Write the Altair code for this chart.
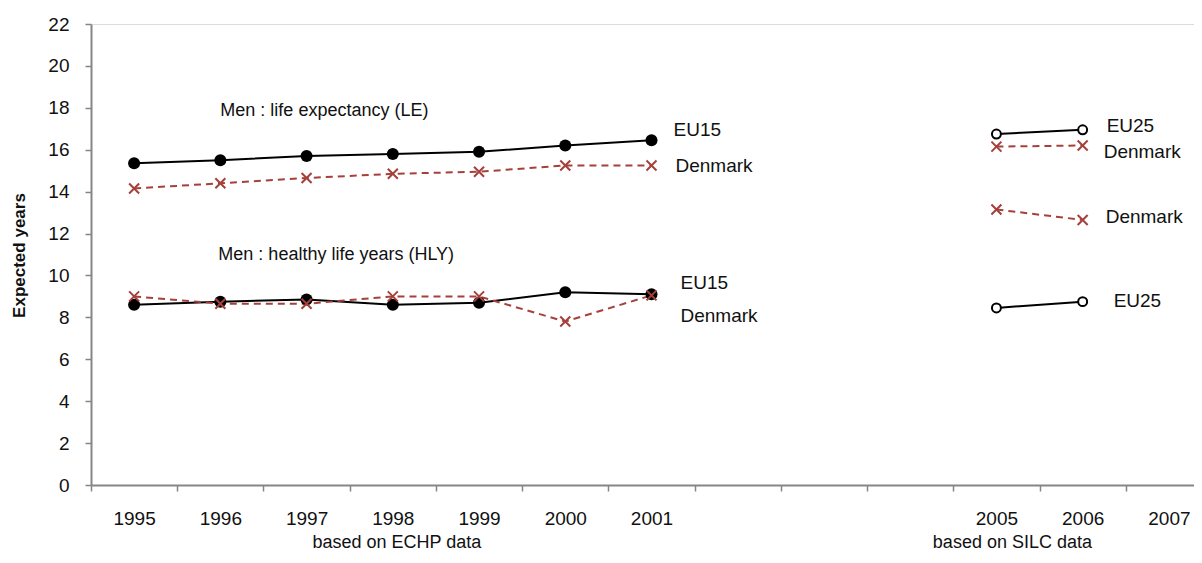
import altair as alt
import pandas as pd

# ---- data ----
all_years = [str(y) for y in range(1995, 2008)]
years_echp = ["1995", "1996", "1997", "1998", "1999", "2000", "2001"]
years_silc = ["2005", "2006"]

le_eu15 = [15.35, 15.5, 15.7, 15.8, 15.9, 16.2, 16.45]
le_dk = [14.15, 14.4, 14.65, 14.85, 14.95, 15.25, 15.25]
hly_eu15 = [8.6, 8.75, 8.85, 8.6, 8.7, 9.2, 9.1]
hly_dk = [9.0, 8.65, 8.65, 9.0, 9.0, 7.8, 9.05]

le_eu25 = [16.75, 16.95]
le_dk_silc = [16.15, 16.2]
hly_dk_silc = [13.15, 12.65]
hly_eu25 = [8.45, 8.75]

y_ticks = list(range(0, 23, 2))

FONT = "Liberation Sans Narrow, Liberation Sans, Arial Narrow, sans-serif"
BROWN = "#A5403B"
AXIS_GREY = "#868686"


def frame(years, values, group):
    return pd.DataFrame({"year": years, "value": values, "group": group})


eu15 = pd.concat([frame(years_echp, le_eu15, "le_eu15"),
                  frame(years_echp, hly_eu15, "hly_eu15")])
dk = pd.concat([frame(years_echp, le_dk, "le_dk"),
                frame(years_echp, hly_dk, "hly_dk"),
                frame(years_silc, le_dk_silc, "le_dk_silc"),
                frame(years_silc, hly_dk_silc, "hly_dk_silc")])
eu25 = pd.concat([frame(years_silc, le_eu25, "le_eu25"),
                  frame(years_silc, hly_eu25, "hly_eu25")])

x_scale = alt.Scale(type="band", domain=all_years, paddingInner=0, paddingOuter=0,
                    range=[0, 1121])
y_scale = alt.Scale(domain=[0, 22], nice=False, zero=True)

x_enc = alt.X("year:O", scale=x_scale,
              axis=alt.Axis(title=None, tickBand="extent", labelAngle=0,
                            labelExpr="indexof(['2002','2003','2004'], datum.value) >= 0 ? '' : datum.value",
                            domainColor=AXIS_GREY, domainWidth=2, tickColor=AXIS_GREY,
                            tickWidth=1.5, tickSize=6, labelPadding=18,
                            labelFont=FONT, labelFontSize=19, labelColor="#111"))
y_enc = alt.Y("value:Q", scale=y_scale,
              axis=alt.Axis(values=y_ticks, title="Expected years", grid=False,
                            domainColor=AXIS_GREY, domainWidth=2, tickColor=AXIS_GREY,
                            tickWidth=1.5, tickSize=6, labelPadding=16,
                            labelFont=FONT, labelFontSize=19, labelColor="#111",
                            titleFont=FONT, titleFontSize=17, titleFontWeight="bold",
                            titleColor="#111", titleAngle=-90, titleX=-72, titleY=231,
                            titleAlign="center", titleBaseline="middle"))

eu15_line = alt.Chart(eu15).mark_line(color="black", strokeWidth=2).encode(
    x=x_enc, y=y_enc, detail="group:N")
eu15_pts = alt.Chart(eu15).mark_point(filled=True, color="black", size=145, opacity=1,
                                      shape="circle").encode(
    x=alt.X("year:O", scale=x_scale), y=alt.Y("value:Q", scale=y_scale))

dk_line = alt.Chart(dk).mark_line(color=BROWN, strokeWidth=2, strokeDash=[7, 5]).encode(
    x=alt.X("year:O", scale=x_scale), y=alt.Y("value:Q", scale=y_scale), detail="group:N")
dk_pts = alt.Chart(dk).mark_point(shape="M-1,-1L1,1M-1,1L1,-1", filled=False, color=BROWN,
                                  size=100, strokeWidth=2, opacity=1).encode(
    x=alt.X("year:O", scale=x_scale), y=alt.Y("value:Q", scale=y_scale))

eu25_line = alt.Chart(eu25).mark_line(color="black", strokeWidth=2).encode(
    x=alt.X("year:O", scale=x_scale), y=alt.Y("value:Q", scale=y_scale), detail="group:N")
eu25_pts = alt.Chart(eu25).mark_point(shape="circle", filled=True, fill="white",
                                      stroke="black", strokeWidth=2, size=80, opacity=1).encode(
    x=alt.X("year:O", scale=x_scale), y=alt.Y("value:Q", scale=y_scale))

# ---- annotations: (text, anchor year, y value, dx, font size) ----
notes = [
    ("Men : life expectancy (LE)", "1996", 17.85, 0, 18),
    ("Men : healthy life years (HLY)", "1996", 10.98, -2, 18),
    ("EU15", "2001", 16.93, 22, 19),
    ("Denmark", "2001", 15.2, 24, 19),
    ("EU15", "2001", 9.66, 29, 19),
    ("Denmark", "2001", 8.05, 29, 19),
    ("EU25", "2006", 17.13, 24, 19),
    ("Denmark", "2006", 15.91, 21, 19),
    ("Denmark", "2006", 12.78, 23, 19),
    ("EU25", "2006", 8.78, 31, 19),
]
note_layers = []
for txt, yr, val, dx, fs in notes:
    d = pd.DataFrame({"year": [yr], "value": [val], "label": [txt]})
    note_layers.append(
        alt.Chart(d).mark_text(align="left", baseline="middle", dx=dx, font=FONT,
                               fontSize=fs, color="#111").encode(
            x=alt.X("year:O", scale=x_scale), y=alt.Y("value:Q", scale=y_scale),
            text="label:N"))

sources = [("based on ECHP data", "1998", 4), ("based on SILC data", "2005", 16)]
for txt, yr, dx in sources:
    d = pd.DataFrame({"year": [yr], "label": [txt]})
    note_layers.append(
        alt.Chart(d).mark_text(align="center", baseline="alphabetic", dx=dx, font=FONT,
                               fontSize=18, color="#111").encode(
            x=alt.X("year:O", scale=x_scale), y=alt.value(524), text="label:N"))

chart = alt.layer(eu15_line, dk_line, eu25_line, eu15_pts, dk_pts, eu25_pts,
                  *note_layers).properties(
    width=1103, height=461,
    autosize=alt.AutoSizeParams(type="none"),
    padding={"left": 83, "top": 16, "right": 0, "bottom": 70},
).configure_view(stroke=None).configure(background="white")

chart.save("out.html", embed_options={"renderer": "svg", "actions": False})
